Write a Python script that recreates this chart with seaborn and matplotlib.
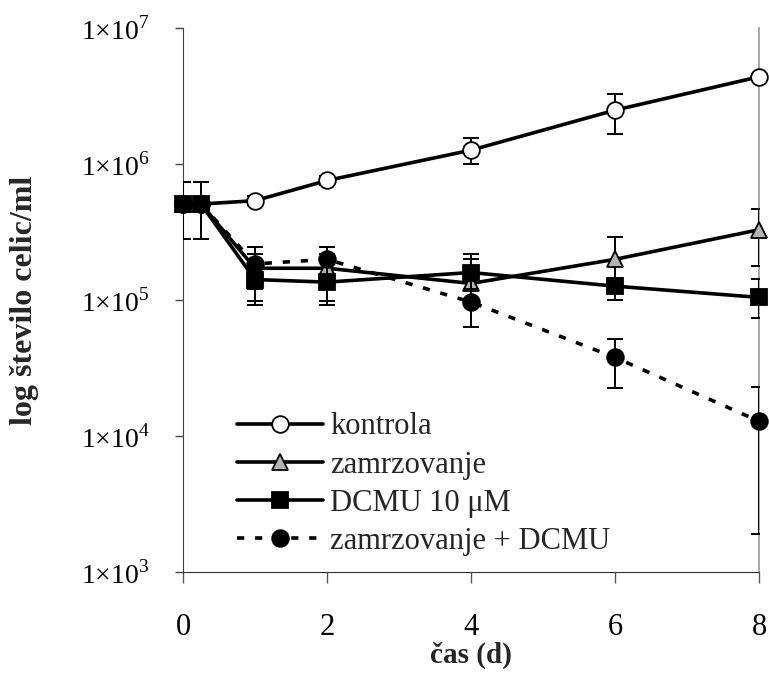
import numpy as np
import pandas as pd
import matplotlib
matplotlib.use('Agg')
import matplotlib.pyplot as plt
from matplotlib.ticker import FixedLocator, NullLocator
import seaborn as sns

# time points (days)
cas = [0, 0.25, 1, 2, 4, 6, 8]

# cell counts per ml
kontrola = [5.1e5, 5.1e5, 5.4e5, 7.6e5, 1.27e6, 2.5e6, 4.4e6]
kontrola_lo = [2.8e5, 2.8e5, 5.0e5, 7.0e5, 1.0e6, 1.66e6, 4.2e6]
kontrola_hi = [7.4e5, 7.4e5, 5.8e5, 8.2e5, 1.56e6, 3.27e6, 4.6e6]

zamrz = [5.1e5, 5.1e5, 1.72e5, 1.72e5, 1.33e5, 2.0e5, 3.3e5]
zamrz_lo = [2.8e5, 2.8e5, 9.8e4, 9.8e4, 1.2e5, 1.47e5, 1.78e5]
zamrz_hi = [7.4e5, 7.4e5, 2.45e5, 2.45e5, 2.0e5, 2.9e5, 4.7e5]

dcmu = [5.1e5, 5.1e5, 1.42e5, 1.36e5, 1.6e5, 1.27e5, 1.05e5]
dcmu_lo = [2.8e5, 2.8e5, 9.3e4, 9.3e4, 1.2e5, 1.0e5, 7.4e4]
dcmu_hi = [7.4e5, 7.4e5, 2.2e5, 2.2e5, 2.18e5, 1.45e5, 1.43e5]

zamrz_dcmu = [5.1e5, 5.1e5, 1.85e5, 2.0e5, 9.7e4, 3.8e4, 1.29e4]
zamrz_dcmu_lo = [2.8e5, 2.8e5, 1.2e5, 1.5e5, 6.4e4, 2.25e4, 1.9e3]
zamrz_dcmu_hi = [7.4e5, 7.4e5, 2.45e5, 2.45e5, 1.6e5, 5.2e4, 2.3e4]

labels = ['kontrola', 'zamrzovanje', 'DCMU 10 μM', 'zamrzovanje + DCMU']
y_ticks = [1e3, 1e4, 1e5, 1e6, 1e7]
y_ticklabels = ['1×10$^{3}$', '1×10$^{4}$', '1×10$^{5}$', '1×10$^{6}$', '1×10$^{7}$']
x_ticks = [0, 2, 4, 6, 8]

sns.set_style('ticks')
plt.rcParams['font.family'] = ['Liberation Serif', 'DejaVu Serif']
plt.rcParams['mathtext.fontset'] = 'custom'
plt.rcParams['mathtext.rm'] = 'Liberation Serif'

fig = plt.figure(figsize=(7.69, 6.74), dpi=100)
ax = fig.add_axes([0.238, 0.151, 0.749, 0.807])

series = [
    (kontrola, kontrola_lo, kontrola_hi, 'o', 'white', '-'),
    (zamrz, zamrz_lo, zamrz_hi, '^', '#b3b3b3', '-'),
    (dcmu, dcmu_lo, dcmu_hi, 's', 'black', '-'),
    (zamrz_dcmu, zamrz_dcmu_lo, zamrz_dcmu_hi, 'o', 'black', (0, (2, 3))),
]

for i, (vals, lo, hi, mk, fc, ls) in enumerate(series):
    vals = np.array(vals)
    err = [vals - np.array(lo), np.array(hi) - vals]
    ax.errorbar(cas, vals, yerr=err, fmt='none', ecolor='black',
                elinewidth=1.4, capsize=6, capthick=1.4, zorder=2 + i)
    df = pd.DataFrame({'cas': cas, 'n': vals})
    sns.lineplot(data=df, x='cas', y='n', ax=ax, color='black', linewidth=2.6,
                 linestyle=ls, marker=mk, markersize=12 if mk != 's' else 11,
                 markerfacecolor=fc, markeredgecolor='black', markeredgewidth=1.3,
                 label=labels[i], zorder=3 + i, clip_on=False)

ax.set_yscale('log')
ax.set_ylim(1e3, 1e7)
ax.set_xlim(0, 8)
ax.yaxis.set_major_locator(FixedLocator(y_ticks))
ax.yaxis.set_minor_locator(NullLocator())
ax.set_yticklabels(y_ticklabels, fontsize=20)
ax.set_xticks(x_ticks)
ax.set_xticklabels([str(t) for t in x_ticks], fontsize=22)
ax.tick_params(axis='y', direction='out', length=6, width=1, pad=18, colors='#444444', labelcolor='black')
ax.tick_params(axis='x', direction='out', length=8, width=1, pad=21, colors='#555555', labelcolor='black')

ax.set_xlabel('čas (d)', fontsize=21, fontweight='bold')
ax.xaxis.set_label_coords(0.5, -0.128)
ax.set_ylabel('log število celic/ml', fontsize=23, fontweight='bold')
ax.yaxis.set_label_coords(-0.25, 0.5)

ax.spines['top'].set_visible(False)
ax.spines['right'].set_color('#999999')
ax.spines['right'].set_linewidth(1.2)
ax.spines['left'].set_color('#444444')
ax.spines['bottom'].set_color('#333333')

leg = ax.legend(loc='lower left', bbox_to_anchor=(0.094, 0.03), frameon=False,
                fontsize=22, handlelength=2.8, handletextpad=0.25, labelspacing=0.3,
                borderpad=0, borderaxespad=0)

fig.savefig('out.png', dpi=100)
